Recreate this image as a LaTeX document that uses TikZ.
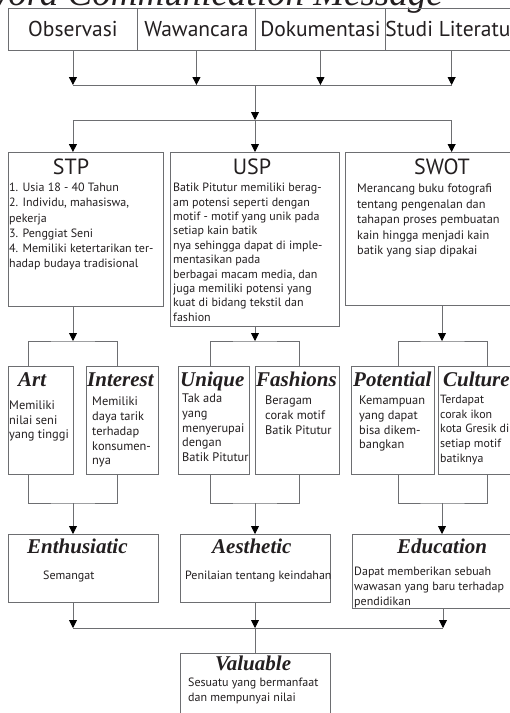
\documentclass[tikz,border=0pt]{standalone}
\usepackage{fontspec}
\setmainfont{PT Sans}
\newfontfamily\serifhead{Liberation Serif}
\usetikzlibrary{arrows.meta,positioning}
\definecolor{linegray}{HTML}{6D6E71}
\definecolor{ink}{HTML}{231F20}
\newcommand{\headfont}{\serifhead\bfseries\itshape\fontsize{21}{21}\selectfont}
\tikzset{
  box/.style={draw=linegray, line width=0.9pt, anchor=north west, inner sep=0pt},
  link/.style={draw=linegray, line width=0.9pt},
  arr/.style={link, -{Triangle[length=8pt,width=8pt,color=black]}},
  topbox/.style={box, minimum height=42pt, font=\fontsize{21.5}{21.5}\selectfont, text=ink},
  ttl/.style={anchor=base, inner sep=0pt, text=ink, font=\fontsize{22}{22}\selectfont},
  head/.style={anchor=base west, inner sep=0pt, text=ink, font=\headfont},
  body/.style={anchor=north west, inner sep=0pt, align=left, text=ink, font=\fontsize{12}{15}\selectfont},
  kbody/.style={body, font=\fontsize{12.4}{14.7}\selectfont},
}
\begin{document}
\begin{tikzpicture}[x=1pt,y=-1pt]
    \fill[white] (0,0) rectangle (510,713);
    \useasboundingbox (0,0) rectangle (510,713);
    \node[anchor=base east, inner sep=0pt, text=ink, font=\serifhead\itshape\fontsize{37}{37}\selectfont] (kw) at (443,5) {Keyword Communication Message};
    % data sources
    \foreach \nm/\x/\w/\txt in {obs/8/129/Observasi, waw/137/118/Wawancara, dok/255/130/Dokumentasi, stu/385/127/Studi Literatur} {
      \node[topbox, minimum width=\w pt] (\nm) at (\x,8) {\txt};
    }
    % analysis boxes
    \node[box, minimum width=155pt, minimum height=154pt] (stp) at (8,152) {};
    \node[box, minimum width=169pt, minimum height=174pt] (usp) at (170,152) {};
    \node[box, minimum width=172pt, minimum height=153pt] (swot) at (345,152) {};
    \node[ttl] (stpT) at (71,174) {STP};
    \node[ttl] (uspT) at (252,174) {USP};
    \node[ttl] (swotT) at (442,174) {SWOT};
    \node[body, font=\fontsize{12}{15.2}\selectfont] (stpB) at (9,183) {1. Usia 18 - 40 Tahun\\2. Individu, mahasiswa,\\pekerja\\3. Penggiat Seni\\4. Memiliki ketertarikan ter-\\hadap budaya tradisional};
    \node[body, font=\fontsize{12}{14.4}\selectfont] (uspB) at (173,183) {Batik Pitutur memiliki berag-\\am potensi seperti dengan\\motif - motif yang unik pada\\setiap kain batik\\nya sehingga dapat di imple-\\mentasikan pada\\berbagai macam media, dan\\juga memiliki potensi yang\\kuat di bidang tekstil dan\\fashion};
    \node[body, font=\fontsize{12.3}{15.4}\selectfont] (swotB) at (357,184) {Merancang buku fotografi\\tentang pengenalan dan\\tahapan proses pembuatan\\kain hingga menjadi kain\\batik yang siap dipakai};
    % keyword boxes
    \foreach \nm/\x/\w in {art/8/65, intr/86/72, uniq/178/71, fash/255/84, pot/351/83, cult/438/80} {
      \node[box, minimum width=\w pt, minimum height=108pt] (\nm) at (\x,366) {};
    }
    \node[head] (artT) at (18,386) {Art};
    \node[head] (intrT) at (87,386) {Interest};
    \node[head] (uniqT) at (180,386) {Unique};
    \node[head] (fashT) at (256,386) {Fashions};
    \node[head] (potT) at (353,386) {Potential};
    \node[head] (cultT) at (443,386) {Culture};
    \node[kbody, font=\fontsize{12.4}{14.3}\selectfont] (artB) at (9,401) {Memiliki\\nilai seni\\yang tinggi};
    \node[kbody] (intrB) at (92,397) {Memiliki\\daya tarik\\terhadap\\konsumen-\\nya};
    \node[kbody] (uniqB) at (182,394) {Tak ada\\yang\\menyerupai\\dengan\\Batik Pitutur};
    \node[kbody] (fashB) at (265,396) {Beragam\\corak motif\\Batik Pitutur};
    \node[kbody] (potB) at (359,396) {Kemampuan\\yang dapat\\bisa dikem-\\bangkan};
    \node[kbody, font=\fontsize{11.9}{14.7}\selectfont] (cultB) at (440,395) {Terdapat\\corak ikon\\kota Gresik di\\setiap motif\\batiknya};
    % value boxes
    \node[box, minimum width=150pt, minimum height=68pt] (enth) at (8,534) {};
    \node[box, minimum width=150pt, minimum height=68pt] (aes) at (180,534) {};
    \node[box, minimum width=165pt, minimum height=74pt] (edu) at (352,534) {};
    \node[box, minimum width=150pt, minimum height=80pt] (val) at (180,653) {};
    \node[head] (enthT) at (27,553) {Enthusiatic};
    \node[head] (aesT) at (212,553) {Aesthetic};
    \node[head] (eduT) at (397,553) {Education};
    \node[head] (valT) at (215,670) {Valuable};
    \node[body] (enthB) at (43,571) {Semangat};
    \node[body] (aesB) at (185,571) {Penilaian tentang keindahan};
    \node[body] (eduB) at (354,567) {Dapat memberikan sebuah\\wawasan yang baru terhadap\\pendidikan};
    \node[body] (valB) at (188,678) {Sesuatu yang bermanfaat\\dan mempunyai nilai};
    % junctions
    \coordinate (hubA) at (255,85);
    \coordinate (hubB) at (255,120);
    \coordinate (gAt) at (73,341);
    \coordinate (gAb) at (73,503);
    \coordinate (gBt) at (255,341);
    \coordinate (gBb) at (255,503);
    \coordinate (gCt) at (442,341);
    \coordinate (gCb) at (442,503);
    \coordinate (fL) at (73,628);
    \coordinate (fM) at (255,628);
    \coordinate (fR) at (443,628);
    % connectors
    \foreach \nm in {obs,waw,dok,stu} {
      \draw[arr] (\nm.south) -- (\nm.south |- hubA);
    }
    \draw[link] (obs.south |- hubA) -- (stu.south |- hubA);
    \draw[arr] (hubA) -- (hubB);
    \draw[link] (hubB -| obs.south) -- (hubB -| stu.south);
    \draw[arr] (hubB -| obs.south) -- (stp.north -| obs.south);
    \draw[arr] (hubB) -- (hubB |- usp.north);
    \draw[arr] (hubB -| stu.south) -- (swot.north -| stu.south);
    \draw[arr] (stp.south -| gAt) -- (gAt);
    \draw[arr] (usp.south -| gBt) -- (gBt);
    \draw[arr] (swot.south -| gCt) -- (gCt);
    \draw[link] ([xshift=20pt]art.north west) |- (gAt) -| ([xshift=31pt]intr.north west);
    \draw[link] ([xshift=20pt]art.south west) |- (gAb) -| ([xshift=31pt]intr.south west);
    \draw[link] ([xshift=32pt]uniq.north west) |- (gBt) -| ([xshift=44pt]fash.north west);
    \draw[link] ([xshift=32pt]uniq.south west) |- (gBb) -| ([xshift=44pt]fash.south west);
    \draw[link] ([xshift=47pt]pot.north west) |- (gCt) -| ([xshift=49pt]cult.north west);
    \draw[link] ([xshift=47pt]pot.south west) |- (gCb) -| ([xshift=49pt]cult.south west);
    \draw[arr] (gAb) -- (enth.north -| gAb);
    \draw[arr] (gBb) -- (aes.north -| gBb);
    \draw[arr] (gCb) -- (edu.north -| gCb);
    \draw[arr] (enth.south -| fL) -- (fL);
    \draw[arr] (aes.south -| fM) -- (fM);
    \draw[arr] (edu.south -| fR) -- (fR);
    \draw[link] (fL) -- (fR);
    \draw[link] (fM) -- (val.north -| fM);
\end{tikzpicture}
\end{document}
